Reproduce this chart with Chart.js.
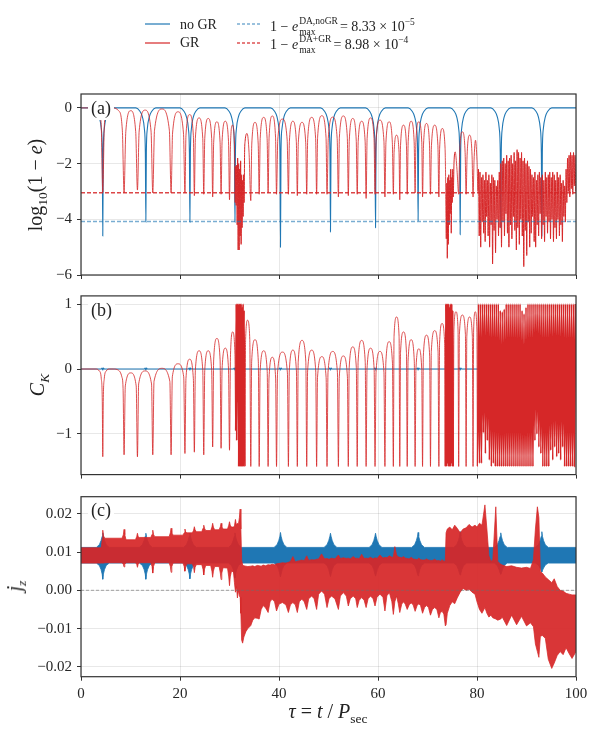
<!DOCTYPE html>
<html>
<head>
<meta charset="utf-8">
<script src="https://cdn.jsdelivr.net/npm/chart.js"></script>
<style>
  body { margin: 0; background: #fff; }
  #fig { position: relative; width: 598px; height: 735px; overflow: hidden;
         font-family: "Liberation Serif", "DejaVu Serif", serif; color: #222; }
  #fig canvas { position: absolute; left: 0; top: 0; }
  .ls { position: absolute; }
  .lt { position: absolute; font-size: 14px; line-height: 16px; white-space: nowrap; }
  .ss { display: inline-block; vertical-align: -5px; line-height: 11.5px; font-size: 9.5px; margin: 0 2px 0 1px; }
  .ss span { display: block; }
  .lt sup { font-size: 9.5px; vertical-align: 6px; line-height: 0; }
  .yt, .xt { position: absolute; transform: translate(-50%, -50%) rotate(-90deg);
             font-size: 20px; white-space: nowrap; line-height: 22px; }
  .xt { transform: translate(-50%, -50%); }
  .yt sub, .xt sub { font-size: 13.5px; line-height: 0; }
</style>
</head>
<body>
<div id="fig">
  <canvas id="pa" width="598" height="735"></canvas>
  <canvas id="pb" width="598" height="735"></canvas>
  <canvas id="pc" width="598" height="735"></canvas>

  <svg class="ls" style="left:145px;top:18px" width="26" height="12"><line x1="0" y1="6" x2="25" y2="6" stroke="#1f77b4" stroke-width="1.2"/></svg>
  <div class="lt" style="left:180px;top:16.5px">no GR</div>
  <svg class="ls" style="left:237px;top:18px" width="26" height="12"><line x1="0" y1="6" x2="25" y2="6" stroke="rgba(31,119,180,0.6)" stroke-width="1.5" stroke-dasharray="3,2"/></svg>
  <div class="lt" style="left:270px;top:15.5px">1 − <i>e</i><span class="ss"><span>DA,noGR</span><span>max</span></span>= 8.33 × 10<sup>−5</sup></div>

  <svg class="ls" style="left:145px;top:37px" width="26" height="12"><line x1="0" y1="6" x2="25" y2="6" stroke="#d62728" stroke-width="1.2"/></svg>
  <div class="lt" style="left:180px;top:35px">GR</div>
  <svg class="ls" style="left:237px;top:37px" width="26" height="12"><line x1="0" y1="6" x2="25" y2="6" stroke="rgba(214,39,40,0.8)" stroke-width="1.4" stroke-dasharray="3,2"/></svg>
  <div class="lt" style="left:270px;top:33.5px">1 − <i>e</i><span class="ss"><span>DA+GR</span><span>max</span></span>= 8.98 × 10<sup>−4</sup></div>

  <div class="yt" style="left:35px;top:185px">log<sub>10</sub>(1 − <i>e</i>)</div>
  <div class="yt" style="left:37px;top:385px"><i>C</i><sub><i>K</i></sub></div>
  <div class="yt" style="left:14px;top:586px"><i>j</i><sub><i>z</i></sub></div>
  <div class="xt" style="left:328px;top:711px"><i>τ</i> = <i>t</i> / <i>P</i><sub>sec</sub></div>
</div>
<script>
// axis ticks
const xTicks = [0, 20, 40, 60, 80, 100];
const xTickLabels = ['0', '20', '40', '60', '80', '100'];
const aTicks = [-6, -4, -2, 0];
const aTickLabels = ['−6', '−4', '−2', '0'];
const bTicks = [-1, 0, 1];
const bTickLabels = ['−1', '0', '1'];
const cTicks = [-0.02, -0.01, 0, 0.01, 0.02];
const cTickLabels = ['−0.02', '−0.01', '0.00', '0.01', '0.02'];

// log10 of the double-averaged limits from the legend
const daNoGR = -4.079;
const daGR = -3.047;

// time spans where the GR run is chaotic and the curve merges into a solid block
const denseA = [[31.1, 33.2], [73.6, 75.4], [80.1, 100]];
const denseB = [[31.2, 33.1], [73.6, 75.2], [80.1, 100]];

// (a) log10(1-e), GR run
const tauA_red = [
  0, 3.0, 3.7, 4.1, 4.4, 4.7, 5.1, 5.8, 6.5, 7.6, 8.35, 8.7,
  9.05, 10.05, 11.05, 11.4, 11.75, 12.95, 14.15, 14.5, 14.85, 16.35, 17.85, 18.2,
  18.5, 19.6, 20.7, 21.0, 21.2, 21.95, 22.7, 22.9, 23.1, 23.85, 24.6, 24.8,
  25.0, 25.7, 26.4, 26.6, 26.8, 27.45, 28.1, 28.3, 28.5, 29.15, 29.8, 30.0,
  30.2, 30.6, 31.0, 31.15, 31.25, 31.35, 31.45, 31.55, 31.65, 31.75, 31.85, 31.95,
  32.05, 32.15, 32.25, 32.35, 32.45, 32.55, 32.65, 32.75, 32.85, 32.95, 33.05, 33.15,
  33.55, 33.95, 34.3, 34.5, 35.15, 35.8, 36.0, 36.2, 36.9, 37.6, 37.8, 38.0,
  38.65, 39.3, 39.5, 39.75, 40.7, 41.65, 41.9, 42.1, 42.8, 43.5, 43.7, 43.9,
  44.65, 45.4, 45.6, 45.8, 46.6, 47.4, 47.6, 47.8, 48.65, 49.5, 49.7, 49.95,
  50.85, 51.75, 52.0, 52.2, 53.0, 53.8, 54.0, 54.2, 54.9, 55.6, 55.8, 56.0,
  56.7, 57.4, 57.6, 57.8, 58.5, 59.2, 59.4, 59.6, 60.4, 61.2, 61.4, 61.6,
  62.25, 62.9, 63.1, 63.25, 63.75, 64.25, 64.4, 64.55, 65.15, 65.75, 65.9, 66.1,
  66.7, 67.3, 67.5, 67.65, 68.25, 68.85, 69.0, 69.2, 69.8, 70.4, 70.6, 70.8,
  71.45, 72.1, 72.3, 72.45, 73.0, 73.55, 73.7, 73.8, 73.9, 74.0, 74.1, 74.2,
  74.3, 74.4, 74.5, 74.6, 74.7, 74.8, 74.9, 75.0, 75.1, 75.2, 75.35, 75.6,
  75.95, 76.3, 76.5, 77.05, 77.6, 77.8, 78.0, 78.5, 79.0, 79.2, 79.4, 79.7,
  80.0, 80.2, 80.3, 80.45, 80.6, 80.75, 80.9, 81.05, 81.2, 81.35, 81.5, 81.65,
  81.8, 81.95, 82.1, 82.25, 82.4, 82.55, 82.7, 82.85, 83.0, 83.15, 83.3, 83.45,
  83.6, 83.75, 83.9, 84.05, 84.2, 84.35, 84.5, 84.65, 84.8, 84.95, 85.1, 85.25,
  85.4, 85.55, 85.7, 85.85, 86.0, 86.15, 86.3, 86.45, 86.6, 86.75, 86.9, 87.05,
  87.2, 87.35, 87.5, 87.65, 87.8, 87.95, 88.1, 88.25, 88.4, 88.55, 88.7, 88.85,
  89.0, 89.15, 89.3, 89.45, 89.6, 89.75, 89.9, 90.05, 90.2, 90.35, 90.5, 90.65,
  90.8, 90.95, 91.1, 91.25, 91.4, 91.55, 91.7, 91.85, 92.0, 92.15, 92.3, 92.45,
  92.6, 92.75, 92.9, 93.05, 93.2, 93.35, 93.5, 93.65, 93.8, 93.95, 94.1, 94.25,
  94.4, 94.55, 94.7, 94.85, 95.0, 95.15, 95.3, 95.45, 95.6, 95.75, 95.9, 96.05,
  96.2, 96.35, 96.5, 96.65, 96.8, 96.95, 97.1, 97.25, 97.4, 97.55, 97.7, 97.85,
  98.0, 98.15, 98.3, 98.45, 98.6, 98.75, 98.9, 99.05, 99.2, 99.35, 99.5, 99.65, 99.8, 99.95
];
const logA_red = [
  0, 0, -0.15, -0.7, -3.03, -0.7, -0.15, -0.01, 0, -0.1, -0.8, -3.05,
  -0.85, -0.1, -0.85, -2.95, -0.83, -0.08, -0.83, -3.05, -0.8, -0.04, -0.8, -3.05,
  -0.9, -0.14, -0.9, -3.05, -1.0, -0.24, -1.0, -3.15, -1.1, -0.36, -1.1, -3.1,
  -1.1, -0.38, -1.1, -3.2, -1.25, -0.5, -1.25, -3.1, -1.2, -0.48, -1.2, -3.3,
  -1.3, -0.62, -1.3, -3.4, -2.1, -3.5, -2.05, -4.2, -1.8, -5.1, -2.0, -5.1,
  -2.2, -4.6, -1.9, -4.9, -2.4, -4.3, -2.6, -3.9, -2.4, -3.4, -1.6, -1.2,
  -0.92, -1.6, -3.33, -1.3, -0.52, -1.3, -3.1, -1.1, -0.34, -1.1, -3.05, -1.05,
  -0.29, -1.05, -3.1, -1.15, -0.4, -1.15, -3.1, -1.2, -0.48, -1.2, -3.15, -1.25,
  -0.52, -1.25, -3.1, -1.1, -0.34, -1.1, -3.1, -1.05, -0.28, -1.05, -3.1, -1.1,
  -0.33, -1.1, -3.2, -1.05, -0.29, -1.05, -3.15, -1.15, -0.38, -1.15, -3.1, -1.2,
  -0.48, -1.2, -3.25, -1.1, -0.36, -1.1, -3.1, -1.2, -0.44, -1.2, -3.2, -1.25,
  -0.5, -1.25, -3.1, -1.6, -0.98, -1.6, -3.3, -1.35, -0.62, -1.35, -3.1, -1.2,
  -0.48, -1.2, -3.05, -1.25, -0.5, -1.25, -3.2, -1.3, -0.56, -1.3, -3.1, -1.35,
  -0.62, -1.35, -3.2, -1.45, -0.74, -1.45, -3.1, -4.7, -2.7, -5.4, -2.5, -4.9,
  -2.4, -4.2, -2.6, -3.8, -2.2, -4.5, -2.5, -3.4, -2.2, -3.2, -2.0, -1.58,
  -2.2, -3.1, -1.6, -0.86, -1.6, -3.1, -1.7, -0.98, -1.7, -3.2, -1.9, -1.16,
  -1.9, -3.0, -2.2, -4.6, -2.3, -5.0, -2.5, -4.1, -2.4, -4.5, -2.6, -4.8,
  -2.3, -3.9, -2.6, -4.6, -2.4, -5.0, -2.7, -4.2, -2.4, -5.6, -2.5, -4.4,
  -2.6, -5.2, -2.8, -4.0, -2.6, -4.6, -2.3, -4.3, -2.0, -5.0, -1.9, -4.1,
  -1.8, -4.6, -2.0, -3.8, -1.7, -4.5, -1.9, -5.0, -1.8, -4.2, -1.7, -4.7,
  -2.0, -3.9, -1.6, -4.4, -1.9, -5.1, -1.5, -4.3, -1.6, -4.9, -1.8, -4.0,
  -1.6, -4.6, -1.9, -5.7, -1.8, -4.4, -2.0, -5.3, -1.9, -4.1, -2.1, -5.0,
  -2.2, -4.5, -2.4, -3.9, -2.5, -4.8, -2.3, -5.0, -2.6, -4.2, -2.4, -4.6,
  -2.3, -3.8, -2.5, -4.7, -2.4, -4.2, -2.6, -4.8, -2.3, -3.9, -2.5, -4.5,
  -2.4, -4.1, -2.3, -4.7, -2.5, -4.0, -2.3, -4.8, -2.4, -4.3, -2.6, -4.7,
  -2.3, -4.0, -2.5, -4.6, -2.4, -4.2, -2.7, -4.8, -2.6, -3.9, -2.8, -4.1,
  -2.2, -3.4, -1.8, -3.0, -1.7, -3.2, -1.6, -2.9, -1.7, -3.1, -1.6, -2.8, -1.7, -3.0
];

// (a) log10(1-e), no-GR run
const tauA_blue = [
  0,
  2.4, 3.2, 3.7, 4.1, 4.3, 4.4, 4.5, 4.7, 5.1, 5.6, 6.4,
  11.1, 11.9, 12.4, 12.8, 13.0, 13.1, 13.2, 13.4, 13.8, 14.3, 15.1,
  20.0, 20.8, 21.3, 21.7, 21.9, 22.0, 22.1, 22.3, 22.7, 23.2, 24.0,
  29.1, 29.9, 30.4, 30.8, 31.0, 31.1, 31.2, 31.4, 31.8, 32.3, 33.1,
  38.3, 39.1, 39.6, 40.0, 40.2, 40.3, 40.4, 40.6, 41.0, 41.5, 42.3,
  48.4, 49.2, 49.7, 50.1, 50.3, 50.4, 50.5, 50.7, 51.1, 51.6, 52.4,
  57.5, 58.3, 58.8, 59.2, 59.4, 59.5, 59.6, 59.8, 60.2, 60.7, 61.5,
  66.1, 66.9, 67.4, 67.8, 68.0, 68.1, 68.2, 68.4, 68.8, 69.3, 70.1,
  74.6, 75.4, 75.9, 76.3, 76.5, 76.6, 76.7, 76.9, 77.3, 77.8, 78.6,
  82.8, 83.6, 84.1, 84.5, 84.7, 84.8, 84.9, 85.1, 85.5, 86.0, 86.8,
  91.1, 91.9, 92.4, 92.8, 93.0, 93.1, 93.2, 93.4, 93.8, 94.3, 95.1,
  100
];
const logA_blue = [
  0,
  0, -0.12, -0.32, -0.75, -1.6, -4.6, -1.6, -0.75, -0.32, -0.12, 0,
  0, -0.12, -0.32, -0.75, -1.6, -4.1, -1.6, -0.75, -0.32, -0.12, 0,
  0, -0.12, -0.32, -0.75, -1.6, -4.1, -1.6, -0.75, -0.32, -0.12, 0,
  0, -0.12, -0.32, -0.75, -1.6, -4.1, -1.6, -0.75, -0.32, -0.12, 0,
  0, -0.12, -0.32, -0.75, -1.6, -5.0, -1.6, -0.75, -0.32, -0.12, 0,
  0, -0.12, -0.32, -0.75, -1.6, -4.45, -1.6, -0.75, -0.32, -0.12, 0,
  0, -0.12, -0.32, -0.75, -1.6, -4.3, -1.6, -0.75, -0.32, -0.12, 0,
  0, -0.12, -0.32, -0.75, -1.6, -4.05, -1.6, -0.75, -0.32, -0.12, 0,
  0, -0.12, -0.32, -0.75, -1.6, -4.55, -1.6, -0.75, -0.32, -0.12, 0,
  0, -0.12, -0.32, -0.75, -1.6, -4.3, -1.6, -0.75, -0.32, -0.12, 0,
  0, -0.12, -0.32, -0.75, -1.6, -4.6, -1.6, -0.75, -0.32, -0.12, 0,
  0
];

// (b) C_K, GR run
const tauB_red = [
  0, 3.0, 3.7, 4.1, 4.3, 4.4, 4.5, 4.7, 5.1, 5.8, 6.5, 7.6,
  8.25, 8.5, 8.7, 8.95, 10.05, 11.15, 11.4, 11.65, 12.95, 14.25, 14.5, 14.75,
  16.35, 17.95, 18.2, 18.45, 19.6, 20.75, 21.0, 21.2, 21.95, 22.7, 22.9, 23.1,
  23.85, 24.6, 24.8, 25.0, 25.7, 26.4, 26.6, 26.8, 27.45, 28.1, 28.3, 28.5,
  29.15, 29.8, 30.0, 30.2, 30.65, 31.1, 31.25, 31.35, 31.45, 31.55, 31.65, 31.75,
  31.85, 31.95, 32.05, 32.15, 32.25, 32.35, 32.45, 32.55, 32.65, 32.75, 32.85, 32.95,
  33.1, 33.25, 33.65, 34.1, 34.3, 34.48, 35.15, 35.82, 36.0, 36.18, 36.9, 37.62,
  37.8, 37.98, 38.65, 39.32, 39.5, 39.7, 40.7, 41.7, 41.9, 42.08, 42.8, 43.52,
  43.7, 43.88, 44.65, 45.42, 45.6, 45.78, 46.6, 47.42, 47.6, 47.78, 48.65, 49.52,
  49.7, 49.9, 50.85, 51.8, 52.0, 52.18, 53.0, 53.82, 54.0, 54.18, 54.9, 55.62,
  55.8, 55.98, 56.7, 57.42, 57.6, 57.78, 58.5, 59.22, 59.4, 59.6, 60.4, 61.2,
  61.4, 61.58, 62.25, 62.92, 63.1, 63.24, 63.75, 64.26, 64.4, 64.55, 65.15, 65.75,
  65.9, 66.07, 66.7, 67.33, 67.5, 67.66, 68.25, 68.84, 69.0, 69.16, 69.8, 70.44,
  70.6, 70.77, 71.45, 72.13, 72.3, 72.44, 72.95, 73.46, 73.6, 73.7, 73.8, 73.9,
  74.0, 74.1, 74.2, 74.3, 74.4, 74.5, 74.6, 74.7, 74.8, 74.9, 75.0, 75.1,
  75.2, 75.33, 75.75, 76.17, 76.3, 76.44, 77.05, 77.66, 77.8, 77.94, 78.5, 79.06,
  79.2, 79.32, 79.65, 79.98, 80.1,
  80.3, 80.5, 80.7, 80.9, 81.1, 81.3, 81.5, 81.7, 81.9, 82.1,
  82.3, 82.5, 82.7, 82.9, 83.1, 83.3, 83.5, 83.7, 83.9, 84.1,
  84.3, 84.5, 84.7, 84.9, 85.1, 85.3, 85.5, 85.7, 85.9, 86.1,
  86.3, 86.5, 86.7, 86.9, 87.1, 87.3, 87.5, 87.7, 87.9, 88.1,
  88.3, 88.5, 88.7, 88.9, 89.1, 89.3, 89.5, 89.7, 89.9, 90.1,
  90.3, 90.5, 90.7, 90.9, 91.1, 91.3, 91.5, 91.7, 91.9, 92.1,
  92.3, 92.5, 92.7, 92.9, 93.1, 93.3, 93.5, 93.7, 93.9, 94.1,
  94.3, 94.5, 94.7, 94.9, 95.1, 95.3, 95.5, 95.7, 95.9, 96.1,
  96.3, 96.5, 96.7, 96.9, 97.1, 97.3, 97.5, 97.7, 97.9, 98.1,
  98.3, 98.5, 98.7, 98.9, 99.1, 99.3, 99.5, 99.7, 99.9
];
const ckRed = [
  0, 0, -0.03, -0.15, -0.5, -1.35, -0.5, -0.15, -0.03, 0, 0, -0.02,
  -0.12, -0.3, -1.32, -0.26, -0.06, -0.26, -1.35, -0.23, -0.03, -0.23, -1.32, -0.19,
  0.01, -0.19, -1.32, -0.12, 0.08, -0.12, -1.3, -0.15, 0.15, -0.15, -1.28, -0.02,
  0.28, -0.02, -1.32, -0.02, 0.28, -0.02, -1.2, 0.14, 0.47, 0.14, -1.22, 0.0,
  0.32, 0.0, -1.25, 0.22, 0.57, 0.22, -0.95, 1.0, -1.1, 1.0, -0.5, 1.0,
  -1.5, 1.0, -1.5, 1.0, -1.5, 1.0, -1.5, 0.95, -1.5, 1.0, -1.5, 0.9,
  -1.5, 0.45, 0.75, 0.45, -1.5, 0.12, 0.45, 0.12, -1.5, -0.04, 0.28, -0.04,
  -1.5, -0.14, 0.18, -0.14, -1.5, -0.06, 0.26, -0.06, -1.5, -0.03, 0.29, -0.03,
  -1.5, 0.11, 0.44, 0.11, -1.5, -0.03, 0.29, -0.03, -1.5, -0.13, 0.19, -0.13,
  -1.5, -0.05, 0.27, -0.05, -1.5, -0.12, 0.2, -0.12, -1.5, 0.02, 0.34, 0.02,
  -1.5, 0.11, 0.44, 0.11, -1.5, 0.0, 0.32, 0.0, -1.5, -0.05, 0.27, -0.05,
  -1.5, 0.09, 0.42, 0.09, -1.5, 0.5, 0.8, 0.5, -1.5, 0.25, 0.57, 0.25,
  -1.5, 0.12, 0.45, 0.12, -1.5, -0.01, 0.31, -0.01, -1.5, 0.2, 0.52, 0.2,
  -1.5, 0.27, 0.59, 0.27, -1.5, 0.4, 0.7, 0.4, -1.5, 1.0, -1.5, 1.0,
  -1.45, 1.0, -1.5, 1.0, -1.5, 0.95, -1.5, 1.0, -1.45, 1.0, -1.5, 0.9,
  -1.5, 0.6, 0.88, 0.6, -1.5, 0.53, 0.83, 0.53, -1.5, 0.5, 0.8, 0.5,
  -1.5, 0.6, 0.88, 0.6, -1.5,
  1, -1.45, 1, -1.45, 1, -0.98, 1, -1.3, 1, -1.1,
  1, -1.4, 1, -1.5, 1, -1.45, 1, -1.5, 1, -1.5,
  1, -1.5, 0.9, -1.5, 0.88, -1.5, 0.92, -1.5, 1, -1.5,
  1, -1.5, 1, -1.5, 1, -1.5, 1, -1.5, 1, -1.5,
  1, -1.5, 1, -1.5, 0.9, -1.5, 0.85, -1.5, 0.95, -1.5,
  1, -1.5, 1, -1.5, 1, -1.5, 1, -1.1, 1, -1.0,
  1, -1.2, 1, -1.3, 1, -1.5, 1, -1.5, 1, -1.5,
  1, -1.5, 1, -1.25, 1, -1.4, 1, -1.2, 1, -1.35,
  1, -1.3, 1, -1.4, 1, -1.2, 1, -1.5, 1, -1.5,
  1, -1.5, 1, -1.5, 1, -1.5, 1, -1.5, 1
];

// (b) C_K, no-GR run
const tauB_blue = [
  0, 4.1, 4.25, 4.4, 4.55, 4.7, 12.8, 12.95, 13.1, 13.25, 13.4,
  21.7, 21.85, 22.0, 22.15, 22.3, 30.8, 30.95, 31.1, 31.25, 31.4,
  40.0, 40.15, 40.3, 40.45, 40.6, 50.1, 50.25, 50.4, 50.55, 50.7,
  59.2, 59.35, 59.5, 59.65, 59.8, 67.8, 67.95, 68.1, 68.25, 68.4,
  76.3, 76.45, 76.6, 76.75, 76.9, 100
];
const ckBlue = [
  0, 0, 0.015, -0.015, 0.015, 0, 0, 0.015, -0.015, 0.015, 0,
  0, 0.015, -0.015, 0.015, 0, 0, 0.015, -0.015, 0.015, 0,
  0, 0.015, -0.015, 0.015, 0, 0, 0.015, -0.015, 0.015, 0,
  0, 0.015, -0.015, 0.015, 0, 0, 0.015, -0.015, 0.015, 0,
  0, 0.015, -0.015, 0.015, 0, 0
];

// (c) j_z, no-GR run: upper and lower edge of the fast oscillation
const tauC_blue = [
  0,
  3.1, 3.7, 4.05, 4.28, 4.4, 4.52, 4.75, 5.1, 5.7,
  11.8, 12.4, 12.75, 12.98, 13.1, 13.22, 13.45, 13.8, 14.4,
  20.7, 21.3, 21.65, 21.88, 22.0, 22.12, 22.35, 22.7, 23.3,
  29.8, 30.4, 30.75, 30.98, 31.1, 31.22, 31.45, 31.8, 32.4,
  39.0, 39.6, 39.95, 40.18, 40.3, 40.42, 40.65, 41.0, 41.6,
  49.1, 49.7, 50.05, 50.28, 50.4, 50.52, 50.75, 51.1, 51.7,
  58.2, 58.8, 59.15, 59.38, 59.5, 59.62, 59.85, 60.2, 60.8,
  66.8, 67.4, 67.75, 67.98, 68.1, 68.22, 68.45, 68.8, 69.4,
  75.3, 75.9, 76.25, 76.48, 76.6, 76.72, 76.95, 77.3, 77.9,
  83.5, 84.1, 84.45, 84.68, 84.8, 84.92, 85.15, 85.5, 86.1,
  91.8, 92.4, 92.75, 92.98, 93.1, 93.22, 93.45, 93.8, 94.4,
  100
];
const jzBlueTop = [
  0.0112,
  0.0112, 0.0119, 0.0130, 0.0141, 0.0150, 0.0141, 0.0130, 0.0119, 0.0112,
  0.0112, 0.0119, 0.0130, 0.0141, 0.0149, 0.0141, 0.0130, 0.0119, 0.0112,
  0.0112, 0.0119, 0.0130, 0.0141, 0.0149, 0.0141, 0.0130, 0.0119, 0.0112,
  0.0112, 0.0119, 0.0130, 0.0141, 0.0150, 0.0141, 0.0130, 0.0119, 0.0112,
  0.0112, 0.0119, 0.0130, 0.0141, 0.0151, 0.0141, 0.0130, 0.0119, 0.0112,
  0.0112, 0.0119, 0.0130, 0.0141, 0.0149, 0.0141, 0.0130, 0.0119, 0.0112,
  0.0112, 0.0119, 0.0130, 0.0141, 0.0149, 0.0141, 0.0130, 0.0119, 0.0112,
  0.0112, 0.0119, 0.0130, 0.0141, 0.0151, 0.0141, 0.0130, 0.0119, 0.0112,
  0.0112, 0.0119, 0.0130, 0.0141, 0.0153, 0.0141, 0.0130, 0.0119, 0.0112,
  0.0112, 0.0119, 0.0130, 0.0141, 0.0150, 0.0141, 0.0130, 0.0119, 0.0112,
  0.0112, 0.0119, 0.0130, 0.0141, 0.0153, 0.0141, 0.0130, 0.0119, 0.0112,
  0.0112
];
const jzBlueBot = [
  0.0071,
  0.0071, 0.0065, 0.0054, 0.0042, 0.0029, 0.0042, 0.0054, 0.0065, 0.0071,
  0.0071, 0.0065, 0.0054, 0.0042, 0.0029, 0.0042, 0.0054, 0.0065, 0.0071,
  0.0071, 0.0065, 0.0054, 0.0042, 0.0030, 0.0042, 0.0054, 0.0065, 0.0071,
  0.0071, 0.0065, 0.0054, 0.0042, 0.0032, 0.0042, 0.0054, 0.0065, 0.0071,
  0.0071, 0.0065, 0.0054, 0.0042, 0.0035, 0.0042, 0.0054, 0.0065, 0.0071,
  0.0071, 0.0065, 0.0054, 0.0042, 0.0036, 0.0042, 0.0054, 0.0065, 0.0071,
  0.0071, 0.0065, 0.0054, 0.0042, 0.0037, 0.0042, 0.0054, 0.0065, 0.0071,
  0.0071, 0.0065, 0.0054, 0.0042, 0.0038, 0.0042, 0.0054, 0.0065, 0.0071,
  0.0071, 0.0065, 0.0054, 0.0043, 0.0040, 0.0043, 0.0054, 0.0065, 0.0071,
  0.0071, 0.0065, 0.0054, 0.0045, 0.0042, 0.0045, 0.0054, 0.0065, 0.0071,
  0.0071, 0.0066, 0.0058, 0.0052, 0.0048, 0.0052, 0.0058, 0.0066, 0.0071,
  0.0071
];

// (c) j_z, GR run: upper and lower edge
const tauC_red = [
  0, 4.1, 4.3, 4.4, 4.55, 4.8,
  8.3, 8.55, 8.7, 8.85, 9.1,
  11.0, 11.25, 11.4, 11.55, 11.8,
  14.1, 14.35, 14.5, 14.65, 14.9,
  17.8, 18.05, 18.2, 18.35, 18.6,
  20.6, 20.85, 21.0, 21.15, 21.4,
  22.5, 22.75, 22.9, 23.05, 23.3,
  24.4, 24.65, 24.8, 24.95, 25.2,
  26.2, 26.45, 26.6, 26.75, 27.0,
  27.9, 28.15, 28.3, 28.45, 28.7,
  29.6, 29.85, 30.0, 30.15, 30.4,
  30.8, 31.0, 31.2, 31.4, 31.6, 31.8, 32.0, 32.15, 32.3, 32.45,
  32.65, 32.9, 33.3, 33.7, 34.3, 34.7, 35.1, 35.6, 36.0, 36.4,
  36.8, 37.3, 37.8, 38.2, 38.6, 39.1, 39.5, 40.0, 40.7, 41.4,
  41.9, 42.3, 42.8, 43.3, 43.7, 44.1, 44.6, 45.1, 45.6, 46.0,
  46.6, 47.1, 47.6, 48.0, 48.6, 49.2, 49.7, 50.1, 50.6, 51.3,
  52.0, 52.4, 53.0, 53.6, 54.0, 54.4, 55.0, 55.5, 55.8, 56.2,
  56.7, 57.2, 57.6, 58.0, 58.5, 59.0, 59.4, 59.8, 60.4, 61.0,
  61.4, 61.8, 62.3, 62.8, 63.1, 63.4, 63.75, 64.1, 64.4, 64.8,
  65.15, 65.5, 65.9, 66.3, 66.7, 67.1, 67.5, 67.9, 68.25, 68.6,
  69.0, 69.4, 69.8, 70.2, 70.6, 71.0, 71.45, 71.9, 72.3, 72.6,
  72.95, 73.3, 73.6, 73.75, 74.0, 74.5, 75.0, 75.5, 76.0, 76.6,
  77.2, 77.8, 78.4, 79.0, 79.6, 80.0, 80.5, 81.0, 81.6, 82.0,
  82.4, 82.8, 83.2, 83.8, 84.2, 84.8, 85.1, 86.0, 87.0, 88.0,
  89.0, 90.0, 90.8, 91.4, 91.8, 92.2, 92.5, 92.8, 93.2, 93.8,
  94.4, 95.1, 95.6, 96.2, 96.8, 97.4, 98.0, 98.6, 99.2, 100
];
const jzRedTop = [
  0.0111, 0.0111, 0.0135, 0.0157, 0.0142, 0.0136,
  0.0136, 0.0145, 0.0159, 0.0145, 0.0132,
  0.0132, 0.0140, 0.0149, 0.0140, 0.0138,
  0.0138, 0.0146, 0.0157, 0.0146, 0.0140,
  0.0140, 0.0150, 0.0162, 0.0150, 0.0144,
  0.0144, 0.0150, 0.0160, 0.0152, 0.0150,
  0.0150, 0.0157, 0.0166, 0.0158, 0.0153,
  0.0153, 0.0162, 0.0170, 0.0162, 0.0156,
  0.0156, 0.0165, 0.0175, 0.0165, 0.0158,
  0.0158, 0.0166, 0.0175, 0.0166, 0.0160,
  0.0160, 0.0170, 0.0179, 0.0170, 0.0165,
  0.0165, 0.0168, 0.0185, 0.0170, 0.0175, 0.0172, 0.0190, 0.0212, 0.0160, 0.0080,
  0.0066, 0.0064, 0.0063, 0.0062, 0.0063, 0.0064, 0.0062, 0.0065, 0.0064, 0.0063,
  0.0066, 0.0064, 0.0067, 0.0066, 0.0068, 0.0067, 0.0069, 0.0070, 0.0072, 0.0071,
  0.0073, 0.0075, 0.0088, 0.0074, 0.0076, 0.0077, 0.0079, 0.0077, 0.0090, 0.0078,
  0.0080, 0.0079, 0.0081, 0.0082, 0.0095, 0.0082, 0.0083, 0.0081, 0.0084, 0.0082,
  0.0092, 0.0083, 0.0085, 0.0083, 0.0084, 0.0082, 0.0088, 0.0083, 0.0084, 0.0082,
  0.0094, 0.0083, 0.0084, 0.0083, 0.0086, 0.0082, 0.0085, 0.0083, 0.0092, 0.0084,
  0.0086, 0.0085, 0.0090, 0.0086, 0.0087, 0.0114, 0.0092, 0.0087, 0.0086, 0.0085,
  0.0088, 0.0084, 0.0083, 0.0082, 0.0086, 0.0082, 0.0081, 0.0080, 0.0084, 0.0080,
  0.0079, 0.0079, 0.0082, 0.0079, 0.0078, 0.0078, 0.0081, 0.0077, 0.0078, 0.0076,
  0.0080, 0.0076, 0.0076, 0.0150, 0.0160, 0.0165, 0.0158, 0.0170, 0.0162, 0.0150,
  0.0160, 0.0163, 0.0172, 0.0165, 0.0170, 0.0165, 0.0175, 0.0170, 0.0223, 0.0160,
  0.0090, 0.0075, 0.0080, 0.0218, 0.0075, 0.0068, 0.0066, 0.0062, 0.0064, 0.0060,
  0.0058, 0.0060, 0.0057, 0.0080, 0.0160, 0.0218, 0.0190, 0.0050, 0.0045, 0.0035,
  0.0028, 0.0020, 0.0030, 0.0010, 0.0000, -0.0002, -0.0008, -0.0010, -0.0012, -0.0012
];
const jzRedBot = [
  0.0071, 0.0071, 0.0071, 0.0071, 0.0071, 0.0072,
  0.0072, 0.0068, 0.0061, 0.0068, 0.0072,
  0.0072, 0.0068, 0.0060, 0.0068, 0.0072,
  0.0072, 0.0062, 0.0045, 0.0062, 0.0072,
  0.0072, 0.0062, 0.0047, 0.0062, 0.0071,
  0.0071, 0.0062, 0.0050, 0.0062, 0.0069,
  0.0069, 0.0060, 0.0046, 0.0060, 0.0067,
  0.0067, 0.0055, 0.0040, 0.0055, 0.0065,
  0.0065, 0.0050, 0.0034, 0.0050, 0.0062,
  0.0062, 0.0045, 0.0028, 0.0045, 0.0059,
  0.0058, 0.0035, 0.0012, 0.0035, 0.0050,
  0.0048, 0.0020, -0.0005, 0.0010, -0.0020, 0.0000, -0.0015, -0.0018, -0.0060, -0.0130,
  -0.0138, -0.0122, -0.0108, -0.0100, -0.0092, -0.0078, -0.0072, -0.0073, -0.0075, -0.0050,
  -0.0040, -0.0046, -0.0058, -0.0030, -0.0023, -0.0030, -0.0054, -0.0036, -0.0032, -0.0038,
  -0.0058, -0.0038, -0.0032, -0.0038, -0.0058, -0.0030, -0.0023, -0.0030, -0.0050, -0.0022,
  -0.0015, -0.0022, -0.0050, -0.0010, -0.0002, -0.0010, -0.0045, -0.0022, -0.0015, -0.0022,
  -0.0050, -0.0015, -0.0006, -0.0015, -0.0041, -0.0022, -0.0015, -0.0022, -0.0045, -0.0026,
  -0.0019, -0.0026, -0.0045, -0.0022, -0.0015, -0.0022, -0.0041, -0.0018, -0.0010, -0.0018,
  -0.0054, -0.0014, -0.0006, -0.0030, -0.0063, -0.0030, -0.0015, -0.0035, -0.0058, -0.0036,
  -0.0030, -0.0036, -0.0050, -0.0038, -0.0033, -0.0038, -0.0055, -0.0040, -0.0035, -0.0040,
  -0.0060, -0.0045, -0.0040, -0.0045, -0.0065, -0.0050, -0.0045, -0.0050, -0.0072, -0.0058,
  -0.0055, -0.0062, -0.0093, -0.0090, -0.0060, -0.0040, -0.0030, -0.0035, -0.0020, -0.0005,
  0.0005, 0.0000, 0.0003, -0.0005, -0.0010, -0.0030, -0.0050, -0.0060, -0.0045, -0.0060,
  -0.0070, -0.0065, -0.0072, -0.0075, -0.0078, -0.0075, -0.0070, -0.0092, -0.0065, -0.0090,
  -0.0068, -0.0093, -0.0085, -0.0095, -0.0140, -0.0160, -0.0175, -0.0120, -0.0118, -0.0125,
  -0.0180, -0.0204, -0.0190, -0.0170, -0.0160, -0.0168, -0.0150, -0.0165, -0.0178, -0.0160
];

const BLUE = '#1f77b4';
const BLUE_DASH = 'rgba(31,119,180,0.6)';
const RED = '#d62728';
const RED_DASH = 'rgba(214,39,40,0.85)';
const RED_LINE = 'rgba(214,39,40,0.82)';
const RED_FILL = 'rgba(214,39,40,0.93)';
const GRID = 'rgba(0,0,0,0.09)';

Chart.defaults.font.family = '"Liberation Serif", "DejaVu Serif", serif';
Chart.defaults.color = '#262626';

function pts(xs, ys) {
  return xs.map((x, i) => ({ x: x, y: ys[i] }));
}
function hline(y) {
  return [{ x: 0, y: y }, { x: 100, y: y }];
}
function inSpans(x, spans) {
  return spans.some(s => x >= s[0] && x < s[1]);
}

const framePlugin = {
  id: 'frame',
  afterDraw(chart) {
    const { ctx, chartArea: a } = chart;
    ctx.save();
    ctx.strokeStyle = '#333';
    ctx.lineWidth = 1.2;
    ctx.strokeRect(a.left, a.top, a.right - a.left, a.bottom - a.top);
    ctx.restore();
  }
};

const labelPlugin = {
  id: 'panelLabel',
  afterDatasetsDraw(chart, args, opts) {
    const { ctx, chartArea: a } = chart;
    ctx.save();
    ctx.font = '18px "Liberation Serif", serif';
    const w = ctx.measureText(opts.text).width;
    const x = a.left + 10, y = a.top + 15;
    ctx.fillStyle = '#fff';
    ctx.fillRect(x - 3, y - 11, w + 6, 22);
    ctx.fillStyle = '#222';
    ctx.textBaseline = 'middle';
    ctx.fillText(opts.text, x, y);
    ctx.restore();
  }
};

function gridOpts() {
  return { color: GRID, lineWidth: 1, tickLength: 4, tickColor: '#333', tickWidth: 1 };
}

function panelOptions(p) {
  return {
    responsive: false,
    animation: false,
    events: [],
    layout: { padding: { left: 0, right: 22, top: p.top, bottom: p.bottom } },
    plugins: {
      legend: { display: false },
      tooltip: { enabled: false },
      panelLabel: { text: p.label }
    },
    scales: {
      x: {
        type: 'linear', min: 0, max: 100,
        afterBuildTicks: s => { s.ticks = xTicks.map(v => ({ value: v })); },
        afterFit: s => { s.height = p.xh; },
        ticks: { display: p.xLabels, autoSkip: false, maxRotation: 0, padding: 4,
                 font: { size: 15 }, callback: (v, i) => xTickLabels[i] },
        grid: gridOpts(),
        border: { display: false }
      },
      y: {
        type: 'linear', min: p.ymin, max: p.ymax,
        afterBuildTicks: s => { s.ticks = p.ticks.map(v => ({ value: v })); },
        afterFit: s => { s.width = 81; },
        ticks: { autoSkip: false, padding: 5, font: { size: 15 },
                 callback: (v, i) => p.tickLabels[i] },
        grid: gridOpts(),
        border: { display: false }
      }
    }
  };
}

function line(data, color, width, order, extra) {
  return Object.assign({
    data: data, borderColor: color, borderWidth: width, pointRadius: 0,
    fill: false, order: order, cubicInterpolationMode: 'monotone'
  }, extra || {});
}

// thin, slightly transparent red for the regular arcs, solid where the run turns chaotic
function redSegments(spans, denseWidth) {
  return {
    borderColor: c => inSpans(c.p0.parsed.x, spans) ? RED : RED_LINE,
    borderWidth: c => inSpans(c.p0.parsed.x, spans) ? denseWidth : 1
  };
}

// panel (a)
new Chart(document.getElementById('pa'), {
  type: 'line',
  data: {
    datasets: [
      line(hline(daGR), RED_DASH, 1.4, 0, { borderDash: [4, 2] }),
      line(hline(daNoGR), BLUE_DASH, 1.5, 0, { borderDash: [4, 2] }),
      line(pts(tauA_red, logA_red), RED_LINE, 1, 1, { segment: redSegments(denseA, 1) }),
      line(pts(tauA_blue, logA_blue), BLUE, 1.1, 2)
    ]
  },
  options: panelOptions({ top: 94, bottom: 450, xh: 10, xLabels: false, label: '(a)',
                          ymin: -6, ymax: 0.5, ticks: aTicks, tickLabels: aTickLabels }),
  plugins: [framePlugin, labelPlugin]
});

// panel (b)
new Chart(document.getElementById('pb'), {
  type: 'line',
  data: {
    datasets: [
      line(pts(tauB_red, ckRed), RED_LINE, 1, 1, { segment: redSegments(denseB, 1.6) }),
      line(pts(tauB_blue, ckBlue), BLUE, 1.1, 2)
    ]
  },
  options: panelOptions({ top: 295.9, bottom: 250.4, xh: 10, xLabels: false, label: '(b)',
                          ymin: -1.625, ymax: 1.125, ticks: bTicks, tickLabels: bTickLabels }),
  plugins: [framePlugin, labelPlugin]
});

// panel (c)
new Chart(document.getElementById('pc'), {
  type: 'line',
  data: {
    datasets: [
      line(hline(0), 'rgba(110,110,110,0.75)', 0.8, 0, { borderDash: [3, 2] }),
      line(pts(tauC_red, jzRedTop), RED_FILL, 0.8, 2,
           { fill: 2, backgroundColor: RED_FILL, cubicInterpolationMode: 'default', tension: 0 }),
      line(pts(tauC_red, jzRedBot), RED_FILL, 0.8, 3, { cubicInterpolationMode: 'default', tension: 0 }),
      line(pts(tauC_blue, jzBlueTop), BLUE, 0.8, 4,
           { fill: 4, backgroundColor: BLUE, cubicInterpolationMode: 'default', tension: 0 }),
      line(pts(tauC_blue, jzBlueBot), BLUE, 0.8, 5, { cubicInterpolationMode: 'default', tension: 0 })
    ]
  },
  options: panelOptions({ top: 496.7, bottom: 28.3, xh: 30, xLabels: true, label: '(c)',
                          ymin: -0.02256, ymax: 0.02444, ticks: cTicks, tickLabels: cTickLabels }),
  plugins: [framePlugin, labelPlugin]
});
</script>
</body>
</html>
